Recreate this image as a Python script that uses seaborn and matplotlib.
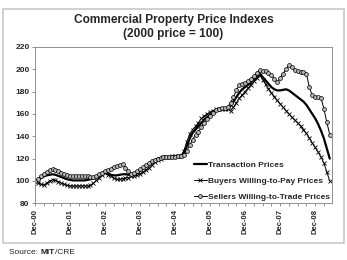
import matplotlib.pyplot as plt
from matplotlib.patches import Rectangle
from matplotlib.ticker import MultipleLocator
from matplotlib.transforms import offset_copy
import seaborn as sns
import pandas as pd

# monthly index values, Dec-00 .. May-09 (2000 = 100)
tick_labels = ['Dec-00', 'Dec-01', 'Dec-02', 'Dec-03', 'Dec-04',
               'Dec-05', 'Dec-06', 'Dec-07', 'Dec-08']

transaction = [100, 101, 102.5, 104, 105, 105.5, 106, 105.5, 104.5, 103.5, 102.5, 101.5,
               101, 100.5, 100.5, 100.5, 100.5, 100.5, 101, 101.5, 102.5, 104, 105.5, 107,
               107.5, 106.5, 105.5, 105, 105, 105.5, 106, 106, 105.5, 105.5, 106, 107,
               109, 111, 113, 115, 117, 118.5, 120, 120.5, 121, 121, 121, 121.5,
               121.5, 122, 122, 125, 131, 138, 143, 146, 149, 152, 155, 157,
               159, 161, 163, 164, 164, 164.5, 165, 167, 171, 175, 179, 182,
               184, 186, 188, 191, 194, 196, 193, 190, 187, 184, 182, 181,
               181, 181.5, 182, 181, 179, 177, 175, 173, 171, 168, 164, 160,
               156, 151, 145, 138, 129, 120]

buyers = [100, 98.5, 97, 96.5, 98, 100, 101, 100.5, 99.5, 98, 97, 96,
          95.5, 95.5, 95.5, 95.5, 95.5, 95.5, 95.5, 96, 98, 100.5, 103, 105.5,
          107, 105.5, 104.5, 102.5, 101.5, 101.5, 102, 102.5, 103, 104, 104.5, 105,
          106.5, 108, 110, 112, 114.5, 117, 119, 120, 121, 121.5, 121.5, 122,
          122, 122.5, 122.5, 127, 135, 142, 146, 149, 152, 156, 158, 160,
          161.5, 163, 164, 164, 164, 164.5, 164.5, 163, 166, 170, 174, 177,
          180, 183, 186, 189, 192, 195, 190.5, 186.5, 182.5, 179, 175.5, 172,
          169, 166, 163, 160, 157, 154.5, 152, 149, 146, 142.5, 138.5, 134,
          130, 126, 121.5, 116, 108, 100]

sellers = [100, 102, 104, 106, 108, 109.5, 110.5, 110, 109, 107.5, 106, 105,
           104.5, 104.5, 104.5, 104.5, 104, 104, 104, 103.5, 103.5, 104.5, 106, 107.5,
           108.5, 109.5, 111, 112.5, 113.5, 114.5, 115, 112, 108.5, 106.5, 107, 108.5,
           110.5, 112.5, 114.5, 116, 117.5, 118.5, 119.5, 120.5, 121, 121, 121.5, 121.5,
           121.5, 122, 122, 123, 127, 132, 137, 141, 144, 148, 152, 155,
           158, 161, 163.5, 164.5, 165, 165, 166, 170, 175, 181, 186, 187,
           188, 189, 191, 194, 197, 199, 198.5, 198, 196.5, 194.5, 191.5, 188.5,
           192, 196, 200, 203.5, 201.5, 199.5, 198.5, 197.5, 197.5, 196, 184, 176.5,
           175.5, 175, 174.5, 164.5, 152.5, 141.5]

sns.set_style('white')
plt.rcParams['font.family'] = ['Liberation Sans', 'DejaVu Sans']

df = pd.DataFrame({'month': range(len(transaction)),
                   'Transaction Prices': transaction,
                   'Buyers Willing-to-Pay Prices': buyers,
                   'Sellers Willing-to-Trade Prices': sellers})

fig = plt.figure(figsize=(3.47, 2.60), dpi=100)
ax = fig.add_axes([0.101, 0.218, 0.856, 0.602])

sns.lineplot(data=df, x='month', y='Transaction Prices', ax=ax,
             color='black', lw=1.6, label='Transaction Prices')
sns.lineplot(data=df, x='month', y='Buyers Willing-to-Pay Prices', ax=ax,
             color='black', lw=0.7, marker='x', ms=3, mec='black', mew=0.6,
             label='Buyers Willing-to-Pay Prices')
sns.lineplot(data=df, x='month', y='Sellers Willing-to-Trade Prices', ax=ax,
             color='black', lw=0.7, marker='o', ms=2.8, mfc='#b8b8b8',
             mec='black', mew=0.5, label='Sellers Willing-to-Trade Prices')

ax.set_xlim(0, 101.8)
ax.set_ylim(80, 220)
ax.set_xticks(range(0, 12 * len(tick_labels), 12))
ax.set_xticklabels(tick_labels, rotation=90, fontsize=5.5, fontweight='bold')
ax.xaxis.set_minor_locator(MultipleLocator(3))
ax.set_yticks(range(80, 221, 20))
ax.set_yticklabels([str(v) for v in range(80, 221, 20)], fontsize=6,
                   fontweight='bold')
ax.tick_params(axis='both', which='both', direction='out', length=2,
               width=0.5, color='#666666', pad=2, bottom=True, left=True)
ax.set_xlabel('')
ax.set_ylabel('')
for side in ['left', 'bottom', 'top', 'right']:
    ax.spines[side].set_color('#909090')
    ax.spines[side].set_linewidth(0.7)

ax.legend(loc='lower right', bbox_to_anchor=(1.0, 0.0), frameon=False,
          prop={'size': 6.0, 'weight': 'bold'}, handlelength=1.6,
          handletextpad=0.1, labelspacing=1.0, borderaxespad=0.05,
          borderpad=0.2)

fig.text(0.5, 1 - 20 / 260, 'Commercial Property Price Indexes',
         ha='center', va='center', fontsize=8.6, fontweight='bold')
fig.text(0.5, 1 - 33.5 / 260, '(2000 price = 100)',
         ha='center', va='center', fontsize=8.6, fontweight='bold')

fig.patches.append(Rectangle((0.0086, 0.065), 0.983, 0.9,
                             transform=fig.transFigure, fill=False,
                             ec='#c8c8c8', lw=1.2))

# source line: "MIT" in bold, pieces placed one after another
fig.canvas.draw()
renderer = fig.canvas.get_renderer()
x0 = 9 / 347
y0 = 1 - 252 / 260
trans = fig.transFigure
for piece, weight in [('Source: ', 'normal'), ('MIT', 'bold'), ('/CRE', 'normal')]:
    t = fig.text(x0, y0, piece, fontsize=6, va='center', fontweight=weight,
                 transform=trans)
    w = t.get_window_extent(renderer=renderer).width
    trans = offset_copy(trans, fig=fig, x=w, y=0, units='dots')

fig.savefig('out.png', dpi=100)
